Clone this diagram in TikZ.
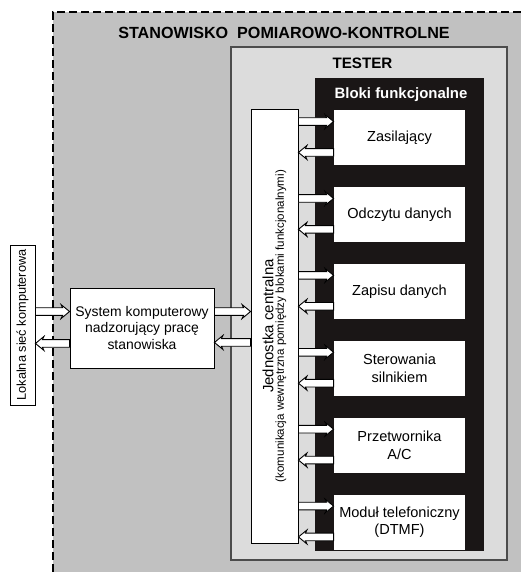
\documentclass[tikz,border=0pt]{standalone}
\usepackage{fontspec}
\setmainfont{Liberation Sans}
\usetikzlibrary{positioning,calc}
\definecolor{stanowisko}{HTML}{C1C1C1}
\definecolor{tester}{HTML}{DCDCDC}
\definecolor{bloki}{HTML}{1A1616}
\tikzset{
  whitebox/.style={draw, fill=white, line width=0.9bp, align=center, inner sep=2bp},
  blokbox/.style={whitebox, draw=none, minimum width=131bp, minimum height=55bp,
    font=\fontsize{14.6}{17.5}\selectfont},
  fatR/.style={draw, fill=white, line width=0.9bp, to path={
    let \p1=(\tikztostart), \p2=(\tikztotarget) in
    (\x1,\y1+3.8bp) -- (\x2-7bp,\y1+3.8bp) -- (\x2-8.5bp,\y1+7bp) -- (\x2,\y1)
    -- (\x2-8.5bp,\y1-7bp) -- (\x2-7bp,\y1-3.8bp) -- (\x1,\y1-3.8bp) -- cycle}},
  fatL/.style={draw, fill=white, line width=0.9bp, to path={
    let \p1=(\tikztostart), \p2=(\tikztotarget) in
    (\x1,\y1+3.8bp) -- (\x2+7bp,\y1+3.8bp) -- (\x2+8.5bp,\y1+7bp) -- (\x2,\y1)
    -- (\x2+8.5bp,\y1-7bp) -- (\x2+7bp,\y1-3.8bp) -- (\x1,\y1-3.8bp) -- cycle}}
}

\begin{document}
\begin{tikzpicture}[x=1bp, y=-1bp, node distance=21bp]
  \useasboundingbox (0,0) rectangle (521,572);
  % stanowisko
  \fill[stanowisko] (53,12) rectangle (521,572);
  \draw[line width=1.3bp, dash pattern=on 8bp off 4bp] (53,572) -- (53,12) -- (521,12);
  \node[font=\bfseries\fontsize{16.2}{19}\selectfont] (title) at (284,32.5) {STANOWISKO\ \ POMIAROWO-KONTROLNE};

  % tester
  \node[draw=black!70, line width=1.1bp, fill=tester, minimum width=276bp, minimum height=513bp,
    inner sep=0pt] (tester) at (369,303.5) {};
  \node[font=\bfseries\fontsize{15.2}{18}\selectfont] (testertxt) at (362.5,63) {TESTER};
  \node[fill=bloki, minimum width=169bp, minimum height=473bp, inner sep=0pt] (bloki) at (399.5,314.5) {};
  \node[font=\bfseries\fontsize{15}{18}\selectfont, text=white] (blokitxt) at (401,95) {Bloki funkcjonalne};

  % bloki funkcjonalne
  \node[blokbox] (b1) at (399.5,137.5) {Zasilający};
  \node[blokbox, below=of b1] (b2) {Odczytu danych};
  \node[blokbox, below=of b2] (b3) {Zapisu danych};
  \node[blokbox, below=of b3] (b4) {Sterowania\\silnikiem};
  \node[blokbox, below=of b4] (b5) {Przetwornika\\A/C};
  \node[blokbox, below=of b5] (b6) {Moduł telefoniczny\\(DTMF)};

  % jednostka centralna
  \node[whitebox, minimum width=434bp, minimum height=47bp, rotate=90] (jc) at (274.5,326)
    {{\fontsize{15}{15}\selectfont Jednostka centralna}\\[-1.5bp]
     {\fontsize{11.6}{13}\selectfont (komunikacja wewnętrzna pomiędzy blokami funkcjonalnymi)}};

  \node[whitebox, minimum width=144bp, minimum height=80bp, font=\fontsize{14}{16.5}\selectfont]
    (sys) at (142,328) {System komputerowy\\nadzorujący pracę\\stanowiska};
  \node[whitebox, minimum width=160bp, minimum height=25bp, rotate=90,
    font=\fontsize{12.8}{15}\selectfont] (lan) at (22.5,325) {Lokalna sieć komputerowa};

  \draw[fatR] ($(lan.south |- sys.north)+(0,24)$) to ($(sys.north west)+(0,24)$);
  \draw[fatL] ($(sys.south west)+(0,-25)$) to ($(lan.south |- sys.south)+(0,-25)$);
  \draw[fatR] ($(sys.north east)+(0,24)$) to ($(jc.north |- sys.north)+(0,24)$);
  \draw[fatL] ($(jc.north |- sys.south)+(0,-26)$) to ($(sys.south east)+(0,-26)$);

  \foreach \i in {1,...,6} {
    \draw[fatR] ($(jc.south |- b\i.north)+(0,12)$) to ($(b\i.north west)+(0,12)$);
    \draw[fatL] ($(b\i.south west)+(0,-13)$) to ($(jc.south |- b\i.south)+(0,-13)$);
  }
\end{tikzpicture}
\end{document}
